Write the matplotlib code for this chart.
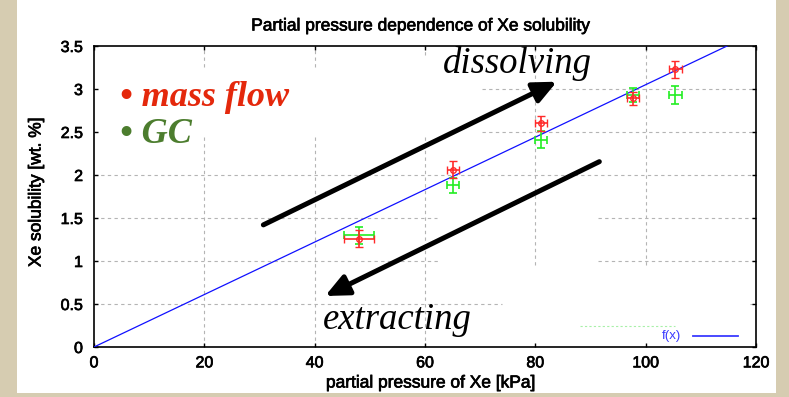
import numpy as np
import matplotlib.pyplot as plt
import matplotlib.patheffects as pe
from matplotlib.patches import Rectangle

# Xe solubility measurements: mass flow method and gas chromatography
pressure_mf = [48.0, 65.1, 81.1, 97.7, 105.4]
solub_mf = [1.26, 2.06, 2.60, 2.89, 3.23]
xerr_mf = [2.7, 1.1, 1.1, 1.1, 1.1]
yerr_mf = [0.10, 0.10, 0.09, 0.08, 0.10]

pressure_gc = [48.0, 65.1, 81.1, 97.7, 105.4]
solub_gc = [1.30, 1.88, 2.41, 2.93, 2.93]
xerr_gc = [2.7, 1.1, 1.1, 1.1, 1.1]
yerr_gc = [0.10, 0.09, 0.10, 0.08, 0.10]

# linear fit f(x) = a*x
fit_slope = 0.0305

x_ticks = [0, 20, 40, 60, 80, 100, 120]
y_ticks = [0, 0.5, 1, 1.5, 2, 2.5, 3, 3.5]
y_ticklabels = ['0', '0.5', '1', '1.5', '2', '2.5', '3', '3.5']

# visible pieces of the grid (the rest is covered by the pasted labels)
hgrid = {3.0: [(70.3, 120)], 2.5: [(70.3, 120)], 2.0: [(0, 120)],
         1.5: [(0, 62.2), (91.3, 120)], 1.0: [(0, 62.4), (91.3, 120)],
         0.5: [(0, 74), (119, 120)]}
vgrid = {20: [(0, 2.44), (3.26, 3.5)], 40: [(0, 2.44), (3.26, 3.5)],
         60: [(0, 2.44), (3.4, 3.5)], 80: [(0.95, 3.5)], 100: [(0.95, 3.5)]}

plt.rcParams['font.family'] = ['Liberation Sans', 'DejaVu Sans']
heavy = [pe.withStroke(linewidth=0.5, foreground='black')]

fig = plt.figure(figsize=(7.89, 3.97), dpi=100, facecolor='#d6ccb1')
fig.patches.append(Rectangle((17 / 789, 4 / 397), 759 / 789, 1.0,
                             transform=fig.transFigure, facecolor='white',
                             edgecolor='none', zorder=-1))

ax = fig.add_axes([94 / 789, 50 / 397, 662 / 789, 301 / 397])
ax.set_zorder(1)
ax.set_facecolor('white')

for y, segs in hgrid.items():
    for x0, x1 in segs:
        ax.plot([x0, x1], [y, y], color='#b4b4b4', lw=0.8,
                ls=(0, (3, 3)), zorder=1)
for x, segs in vgrid.items():
    for y0, y1 in segs:
        ax.plot([x, x], [y0, y1], color='#b4b4b4', lw=0.8,
                ls=(0, (3, 3)), zorder=1)

# fit line
xf = np.array([0, 120])
ax.plot(xf, fit_slope * xf, color='#1010ff', lw=0.9, zorder=3)

ax.errorbar(pressure_gc, solub_gc, xerr=xerr_gc, yerr=yerr_gc, fmt='none',
            ecolor='#22ee22', elinewidth=1.2, capsize=3, capthick=1.2, zorder=4)
ax.errorbar(pressure_mf, solub_mf, xerr=xerr_mf, yerr=yerr_mf, fmt='o',
            ms=4, mfc='none', mec='#ff2a2a', mew=1.0, ecolor='#ff2a2a',
            elinewidth=1.2, capsize=3, capthick=1.2, zorder=5)

# arrows and labels
arrow = dict(arrowstyle='-|>,head_length=0.7,head_width=0.32',
             lw=3.6, color='black', mutation_scale=20,
             shrinkA=0, shrinkB=0)
ax.annotate('', xy=(83.9, 3.085), xytext=(30.7, 1.42), arrowprops=arrow,
            zorder=6)
ax.annotate('', xy=(41.9, 0.593), xytext=(91.6, 2.155), arrowprops=arrow,
            zorder=6)
ax.text(63.3, 3.183, 'dissolving', family='Liberation Serif', style='italic',
        fontsize=26.5, ha='left', va='baseline', zorder=6)
ax.text(41.4, 0.206, 'extracting', family='Liberation Serif', style='italic',
        fontsize=26.5, ha='left', va='baseline', zorder=6)
ax.text(4.7, 2.806, '\u2022 mass flow', family='Liberation Serif',
        style='italic', weight='bold', fontsize=26, color='#e4280c',
        ha='left', va='baseline', zorder=6)
ax.text(4.7, 2.369, '\u2022 GC', family='Liberation Serif',
        style='italic', weight='bold', fontsize=26, color='#4c7d2e',
        ha='left', va='baseline', zorder=6)

# key
ax.plot([88.1, 105.3], [0.248, 0.248], color='#a8f0a8', lw=0.8,
        ls=(0, (2, 2)), zorder=2)
ax.text(106.5, 0.128, 'f(x)', color='#3a3aff', fontsize=9.5,
        ha='right', va='center', zorder=6)
ax.plot([108.6, 116.8], [0.128, 0.128], color='#3a3aff', lw=1.3, zorder=6)

ax.set_xlim(0, 120)
ax.set_ylim(0, 3.5)
ax.set_xticks(x_ticks)
ax.set_yticks(y_ticks)
ax.set_yticklabels(y_ticklabels)
ax.tick_params(direction='in', top=True, right=True, length=3, width=1,
               labelsize=11.5)
ax.tick_params(axis='x', pad=6)
ax.tick_params(axis='y', pad=8)
for lbl in ax.get_xticklabels() + ax.get_yticklabels():
    lbl.set_path_effects(heavy)
for s in ax.spines.values():
    s.set_linewidth(1.2)

fig.text(421 / 789, 1 - 26 / 397, 'Partial pressure dependence of Xe solubility',
         fontsize=12.5, ha='center', va='center', path_effects=heavy)
fig.text(431 / 789, 1 - 383 / 397, 'partial pressure of Xe [kPa]',
         fontsize=12.5, ha='center', va='center', path_effects=heavy)
fig.text(36 / 789, 1 - 192 / 397, 'Xe solubility [wt. %]',
         fontsize=12.5, ha='center', va='center', rotation=90,
         path_effects=heavy)

fig.savefig('out.png', dpi=100, facecolor=fig.get_facecolor())
